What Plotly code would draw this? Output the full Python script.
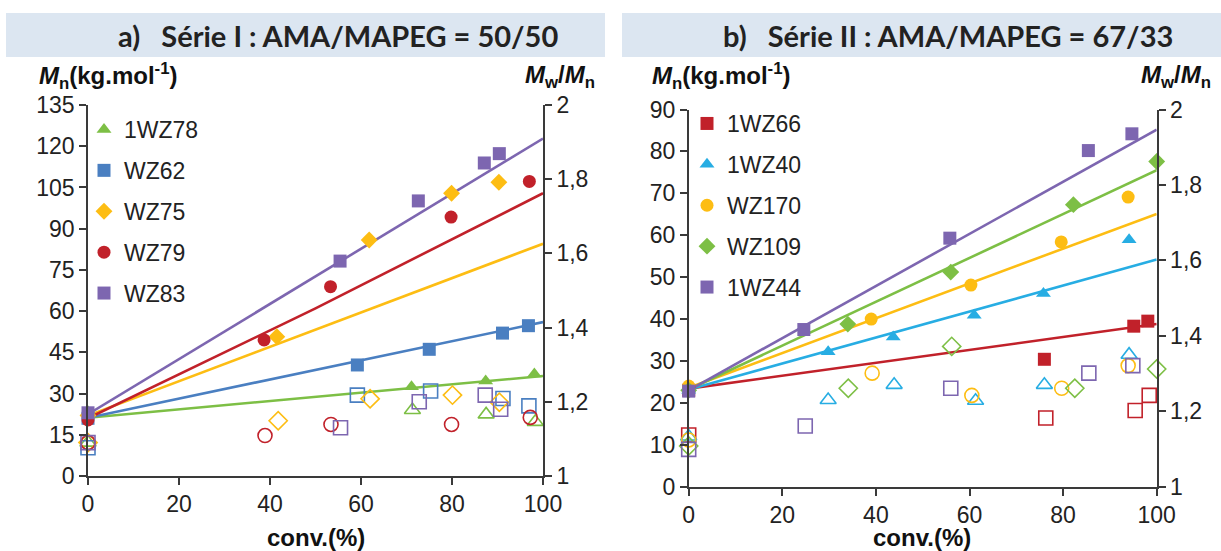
import plotly.graph_objects as go

W, H = 1221, 551

# ---------------- Panel a : Série I ----------------
a_names = ["1WZ78", "WZ62", "WZ75", "WZ79", "WZ83"]
a_colors = ["#7dbf45", "#4a7fc1", "#fdbd13", "#c1212a", "#7d66b0"]
a_symbols = ["triangle-up", "square", "diamond", "circle", "square"]

a_mn_conv = [
    [0, 71.1, 87.4, 98.1],
    [0, 59.2, 75.0, 91.1, 96.8],
    [0, 41.5, 61.8, 79.9, 90.3],
    [0, 38.7, 53.3, 79.8, 97.0],
    [0, 55.4, 72.6, 87.1, 90.4],
]
a_mn = [
    [23.4, 32.5, 34.6, 37.1],
    [21.0, 40.4, 46.1, 52.0, 54.7],
    [22.0, 50.7, 85.9, 102.9, 106.9],
    [20.4, 49.5, 68.9, 94.2, 107.2],
    [23.0, 78.2, 100.1, 113.9, 117.3],
]
a_pdi_conv = [
    [0, 71.3, 87.5, 98.3],
    [0, 59.2, 75.3, 91.2, 96.9],
    [0, 41.8, 62.0, 80.1, 90.4],
    [0, 38.9, 53.4, 79.9, 97.2],
    [0, 55.5, 72.8, 87.3, 90.7],
]
a_pdi = [
    [1.09, 1.178, 1.166, 1.146],
    [1.076, 1.218, 1.229, 1.209, 1.189],
    [1.09, 1.149, 1.208, 1.218, 1.199],
    [1.09, 1.109, 1.139, 1.139, 1.158],
    [1.09, 1.130, 1.200, 1.218, 1.180],
]
a_line_conv = [0, 50, 100]
a_line = [
    [21.2, 28.8, 36.4],
    [21.2, 38.6, 56.0],
    [22.0, 53.3, 84.5],
    [21.0, 61.0, 102.9],
    [22.5, 72.6, 122.8],
]

# ---------------- Panel b : Série II ----------------
b_names = ["1WZ66", "1WZ40", "WZ170", "WZ109", "1WZ44"]
b_colors = ["#c1212a", "#27ade3", "#fdbd13", "#7dbf45", "#7d66b0"]
b_symbols = ["square", "triangle-up", "circle", "diamond", "square"]

b_mn_conv = [
    [0, 76.0, 95.1, 98.1],
    [0, 29.8, 43.7, 61.0, 75.8, 94.1],
    [0, 39.0, 60.3, 79.6, 93.9],
    [0, 34.0, 56.0, 82.2, 100.0],
    [0, 24.6, 55.8, 85.4, 94.7],
]
b_mn = [
    [23.0, 30.4, 38.3, 39.5],
    [23.0, 32.2, 35.7, 40.9, 46.1, 58.9],
    [24.0, 40.0, 48.1, 58.4, 69.1],
    [23.0, 38.8, 51.2, 67.3, 77.6],
    [22.8, 37.5, 59.3, 80.2, 84.2],
]
b_pdi_conv = [
    [0, 76.3, 95.4, 98.4],
    [0, 29.8, 43.9, 61.3, 76.0, 94.1],
    [0, 39.2, 60.5, 79.7, 93.9],
    [0, 34.1, 56.2, 82.5, 100.0],
    [0, 24.9, 56.0, 85.5, 94.9],
]
b_pdi = [
    [1.137, 1.182, 1.202, 1.242],
    [1.133, 1.230, 1.270, 1.228, 1.270, 1.350],
    [1.124, 1.301, 1.242, 1.261, 1.321],
    [1.108, 1.261, 1.372, 1.261, 1.312],
    [1.099, 1.161, 1.261, 1.301, 1.321],
]
b_line_conv = [0, 50, 100]
b_line = [
    [23.4, 31.1, 38.8],
    [23.2, 38.7, 54.2],
    [23.6, 44.4, 65.1],
    [23.2, 49.4, 75.5],
    [23.0, 54.1, 85.2],
]

a_left_ticks = list(range(0, 136, 15))
b_left_ticks = list(range(0, 91, 10))
right_ticks = [1, 1.2, 1.4, 1.6, 1.8, 2]
right_ticktext = ["1", "1,2", "1,4", "1,6", "1,8", "2"]
x_ticks = [0, 20, 40, 60, 80, 100]

FONT = "Liberation Sans, Arial, sans-serif"
AXC = "#3a3a3a"

fig = go.Figure()


def add_panel(names, colors, symbols, mn_c, mn, pdi_c, pdi, lc, lv, xa, ya, ya2, legend):
    for i, n in enumerate(names):
        fig.add_trace(go.Scatter(
            x=lc, y=lv[i], mode="lines", xaxis=xa, yaxis=ya,
            line=dict(color=colors[i], width=2.6), showlegend=False,
            hoverinfo="skip", cliponaxis=False))
    for i, n in enumerate(names):
        fig.add_trace(go.Scatter(
            x=pdi_c[i], y=pdi[i], mode="markers", xaxis=xa, yaxis=ya2,
            marker=dict(symbol=symbols[i] + "-open", size=14, color=colors[i],
                        line=dict(width=1.6, color=colors[i])),
            showlegend=False, cliponaxis=False))
    for i, n in enumerate(names):
        fig.add_trace(go.Scatter(
            x=mn_c[i], y=mn[i], mode="markers", xaxis=xa, yaxis=ya, name=n,
            marker=dict(symbol=symbols[i], size=13, color=colors[i]),
            legend=legend, legendgroup=legend + n, cliponaxis=False))


add_panel(a_names, a_colors, a_symbols, a_mn_conv, a_mn, a_pdi_conv, a_pdi,
          a_line_conv, a_line, "x", "y", "y2", "legend")
add_panel(b_names, b_colors, b_symbols, b_mn_conv, b_mn, b_pdi_conv, b_pdi,
          b_line_conv, b_line, "x2", "y3", "y4", "legend2")

ax_common = dict(showline=True, linecolor=AXC, linewidth=1.6, ticks="outside",
                 ticklen=7, tickwidth=1.6, tickcolor=AXC, showgrid=False,
                 zeroline=False, automargin=False,
                 tickfont=dict(family=FONT, size=23, color="#222"))

xa_dom = [88 / W, 543 / W]
ya_dom = [1 - 476 / H, 1 - 105 / H]
xb_dom = [688.7 / W, 1156.7 / W]
yb_dom = [1 - 486.7 / H, 1 - 109.5 / H]

LEG_FONT = dict(family=FONT, size=23, color="#222")

fig.update_layout(
    width=W, height=H, margin=dict(l=0, r=0, t=0, b=0, autoexpand=False),
    paper_bgcolor="white", plot_bgcolor="white",
    separators=", ",
    xaxis=dict(domain=xa_dom, range=[0, 100], tickvals=x_ticks, anchor="y", **ax_common),
    yaxis=dict(domain=ya_dom, range=[0, 135], tickvals=a_left_ticks, anchor="x", **ax_common),
    yaxis2=dict(domain=ya_dom, range=[1, 2], tickvals=right_ticks, ticktext=right_ticktext,
                overlaying="y", side="right", anchor="x", **ax_common),
    xaxis2=dict(domain=xb_dom, range=[0, 100], tickvals=x_ticks, anchor="y3", **ax_common),
    yaxis3=dict(domain=yb_dom, range=[0, 90], tickvals=b_left_ticks, anchor="x2", **ax_common),
    yaxis4=dict(domain=yb_dom, range=[1, 2], tickvals=right_ticks, ticktext=right_ticktext,
                overlaying="y3", side="right", anchor="x2", **ax_common),
    legend=dict(x=84 / W, y=1 - 108 / H, xanchor="left", yanchor="top",
                bgcolor="rgba(0,0,0,0)", font=LEG_FONT,
                tracegroupgap=8, itemwidth=30),
    legend2=dict(x=687 / W, y=1 - 102 / H, xanchor="left", yanchor="top",
                 bgcolor="rgba(0,0,0,0)", font=LEG_FONT,
                 tracegroupgap=8, itemwidth=30),
    shapes=[
        dict(type="rect", xref="paper", yref="paper", x0=6 / W, x1=605 / W,
             y0=1 - 57 / H, y1=1 - 13 / H, fillcolor="#dce6f1", line=dict(width=0), layer="below"),
        dict(type="rect", xref="paper", yref="paper", x0=622 / W, x1=1.0,
             y0=1 - 57 / H, y1=1 - 13 / H, fillcolor="#dce6f1", line=dict(width=0), layer="below"),
    ],
)

title_font = dict(family="Lato, Open Sans, sans-serif", size=29, color="#222")
lab_font = dict(family=FONT, size=24, color="#111")
ann = [
    dict(text="<b>a)   Série I : AMA/MAPEG = 50/50</b>", x=338 / W, y=1 - 35 / H,
         font=title_font),
    dict(text="<b>b)   Série II : AMA/MAPEG = 67/33</b>", x=948 / W, y=1 - 35 / H,
         font=title_font),
    dict(text="<b><i>M</i><sub>n</sub>(kg.mol<sup>-1</sup>)</b>", x=37 / W, y=1 - 76 / H,
         xanchor="left", font=lab_font),
    dict(text="<b><i>M</i><sub>w</sub>/<i>M</i><sub>n</sub></b>", x=597 / W, y=1 - 76 / H,
         xanchor="right", font=lab_font),
    dict(text="<b><i>M</i><sub>n</sub>(kg.mol<sup>-1</sup>)</b>", x=650 / W, y=1 - 76 / H,
         xanchor="left", font=lab_font),
    dict(text="<b><i>M</i><sub>w</sub>/<i>M</i><sub>n</sub></b>", x=1213 / W, y=1 - 76 / H,
         xanchor="right", font=lab_font),
    dict(text="<b>conv.(%)</b>", x=316 / W, y=1 - 537 / H, font=lab_font),
    dict(text="<b>conv.(%)</b>", x=922 / W, y=1 - 537 / H, font=lab_font),
]
for a in ann:
    a.update(xref="paper", yref="paper", showarrow=False)
    a.setdefault("xanchor", "center")
    a.setdefault("yanchor", "middle")
fig.update_layout(annotations=ann)

fig.write_html("out.html", config={"displayModeBar": False},
               post_script="document.body.style.margin='0';document.body.style.overflow='hidden';")
